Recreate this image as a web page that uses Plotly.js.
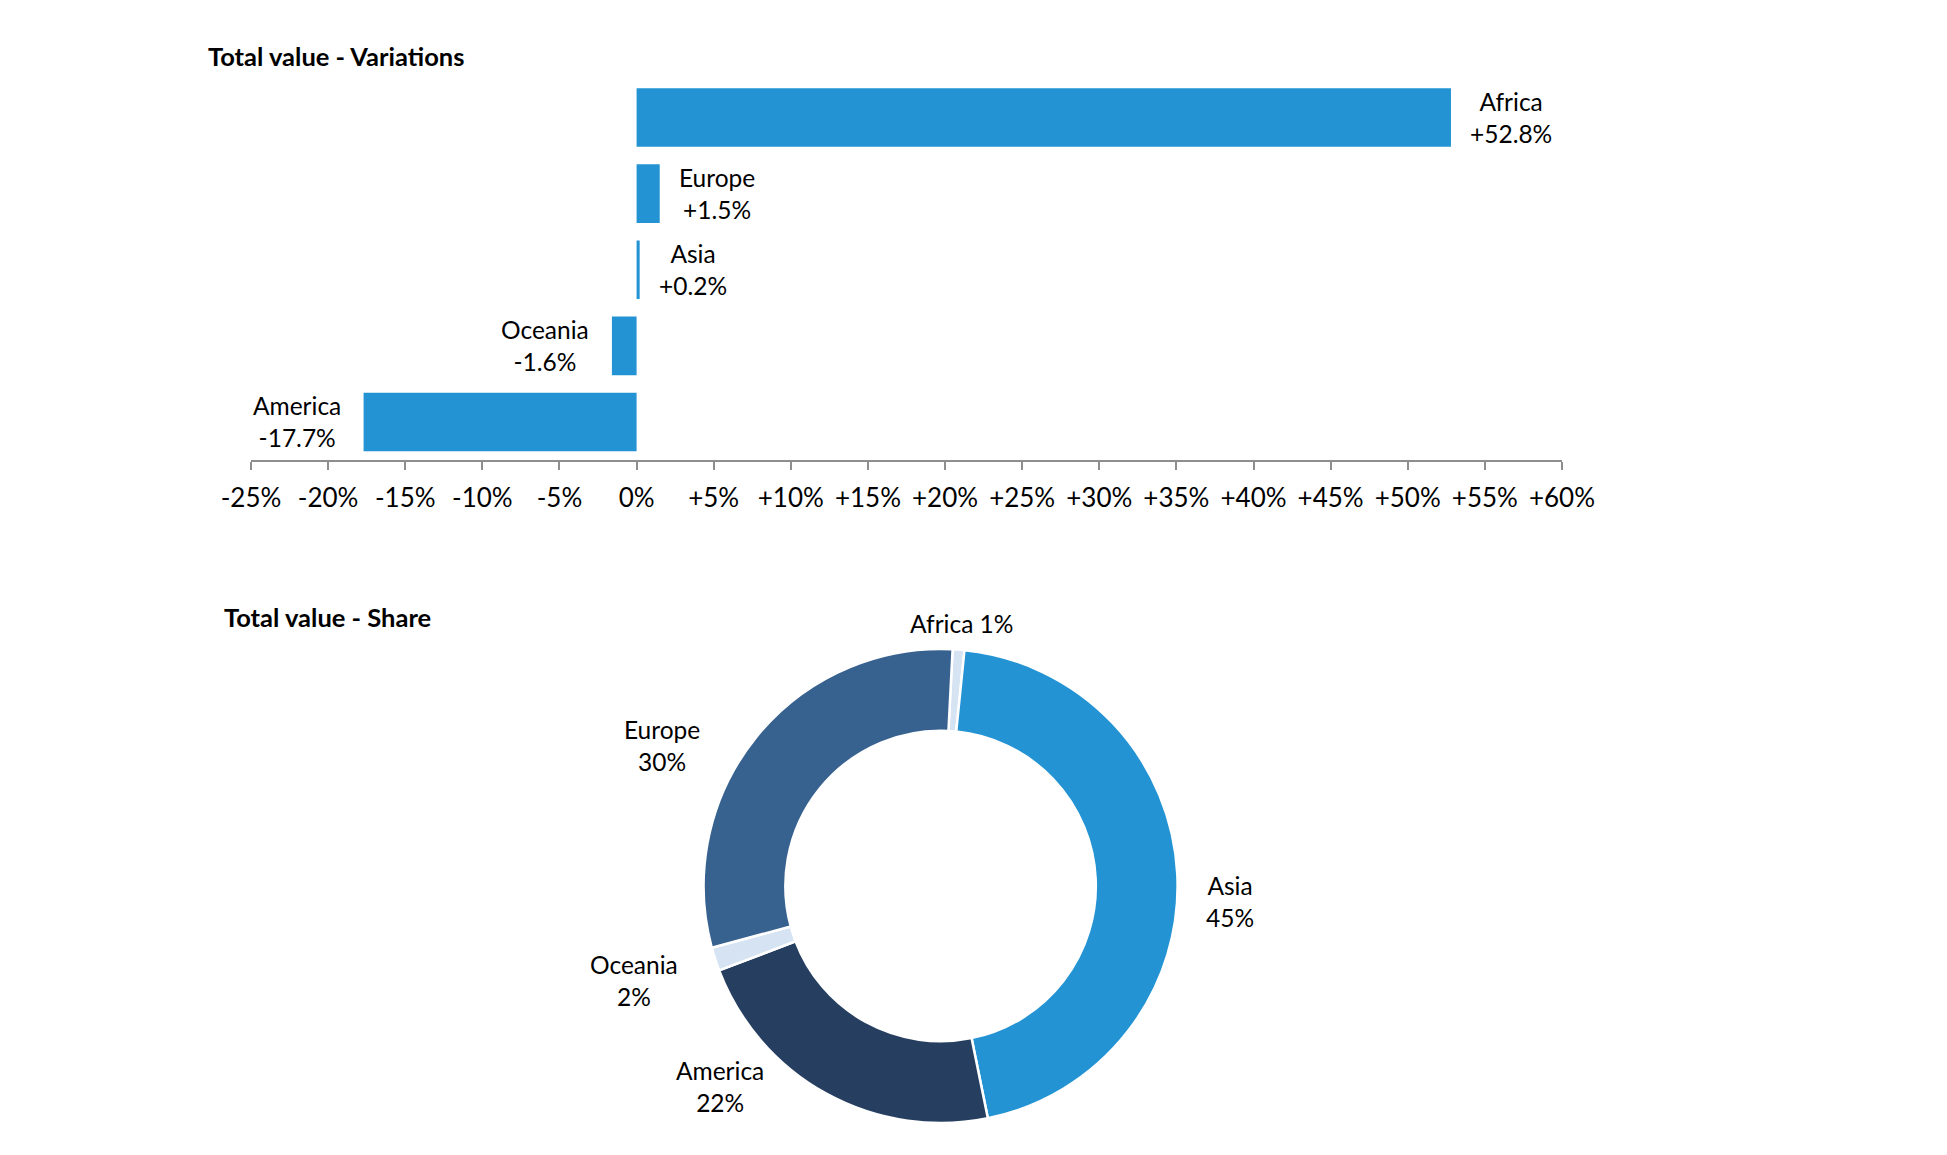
<!DOCTYPE html>
<html>
<head>
<meta charset="utf-8">
<script src="https://cdn.plot.ly/plotly-3.0.1.min.js"></script>
<style>
  html, body { margin: 0; padding: 0; background: #ffffff; }
  #chart { width: 1947px; height: 1155px; }
</style>
</head>
<body>
<div id="chart"></div>
<script>
// ---- Data: bar chart (variations, %) ----
const barCategories = ['Africa', 'Europe', 'Asia', 'Oceania', 'America'];
const barValues = [52.8, 1.5, 0.2, -1.6, -17.7];

// ---- Axis ticks ----
const tickValues = [-25, -20, -15, -10, -5, 0, 5, 10, 15, 20, 25, 30, 35, 40, 45, 50, 55, 60];
const tickLabels = ['-25%', '-20%', '-15%', '-10%', '-5%', '0%', '+5%', '+10%', '+15%', '+20%', '+25%', '+30%', '+35%', '+40%', '+45%', '+50%', '+55%', '+60%'];

// ---- Data: donut (share, %) ----
const pieLabels = ['Africa', 'Asia', 'America', 'Oceania', 'Europe'];
const pieValues = [0.8, 45.2, 22.4, 1.6, 30.0];
const pieColors = ['#D5E3F3', '#2393D4', '#263F61', '#D5E3F3', '#37618F'];

// ---- Titles ----
const titleVariations = 'Total value - Variations';
const titleShare = 'Total value - Share';

// ---- Layout constants (pixels in the 1947x1155 page) ----
const W = 1947, H = 1155;
const FONT = 'Lato, Carlito, Calibri, "Open Sans", sans-serif';
const BAR_COLOR = '#2393D4';
// donut label anchor points (label centres, page pixels), same order as pieLabels
const pieLabelPos = [[961, 623], [1230, 901], [720, 1086], [634, 981], [662, 745]];

function fmtVar(v) {
  return (v > 0 ? '+' : '') + v.toFixed(1) + '%';
}

const barTrace = {
  type: 'bar',
  orientation: 'h',
  x: barValues,
  y: barCategories,
  marker: { color: BAR_COLOR },
  xaxis: 'x',
  yaxis: 'y',
  hoverinfo: 'x+y',
  showlegend: false
};

const pieTrace = {
  type: 'pie',
  labels: pieLabels,
  values: pieValues,
  sort: false,
  direction: 'clockwise',
  rotation: 2.9,
  hole: 0.655,
  marker: { colors: pieColors, line: { color: '#ffffff', width: 2.5 } },
  textinfo: 'none',
  domain: { x: [703.6 / W, 1177.6 / W], y: [1 - 1123 / H, 1 - 649 / H] },
  showlegend: false
};

const barAnnotations = barCategories.map(function (c, i) {
  const v = barValues[i];
  return {
    x: v,
    y: c,
    xref: 'x',
    yref: 'y',
    text: c + '<br>' + fmtVar(v),
    showarrow: false,
    xanchor: v >= 0 ? 'left' : 'right',
    yanchor: 'middle',
    xshift: v >= 0 ? 17 : -21,
    align: 'center',
    font: { family: FONT, size: 24.5, color: '#000000' }
  };
});

const pieTotal = pieValues.reduce(function (a, b) { return a + b; }, 0);
const pieAnnotations = pieLabels.map(function (l, i) {
  const pct = Math.round(pieValues[i] / pieTotal * 100) + '%';
  return {
    x: pieLabelPos[i][0] / W,
    y: 1 - pieLabelPos[i][1] / H,
    xref: 'paper',
    yref: 'paper',
    text: l === 'Africa' ? l + ' ' + pct : l + '<br>' + pct,
    showarrow: false,
    xanchor: 'center',
    yanchor: 'middle',
    align: 'center',
    font: { family: FONT, size: 24.5, color: '#000000' }
  };
});

const layout = {
  width: W,
  height: H,
  margin: { l: 0, r: 0, t: 0, b: 0 },
  paper_bgcolor: '#ffffff',
  plot_bgcolor: '#ffffff',
  font: { family: FONT, size: 24, color: '#000000' },
  showlegend: false,
  title: {
    text: '<b>' + titleVariations + '</b>',
    x: 208 / W,
    xanchor: 'left',
    xref: 'paper',
    y: 1 - 57 / H,
    yref: 'paper',
    yanchor: 'middle',
    font: { family: FONT, size: 25.5, color: '#000000' }
  },
  bargap: 0.23,
  xaxis: {
    domain: [251 / W, 1562 / W],
    range: [-25, 60],
    tickmode: 'array',
    tickvals: tickValues,
    ticktext: tickLabels,
    ticks: 'outside',
    ticklen: 8,
    tickwidth: 2,
    tickcolor: '#8E8E8E',
    ticklabelstandoff: 6,
    showline: true,
    linecolor: '#8E8E8E',
    linewidth: 2,
    showgrid: false,
    zeroline: false,
    tickfont: { family: FONT, size: 26, color: '#000000' },
    fixedrange: true,
    anchor: 'y'
  },
  yaxis: {
    domain: [1 - 460 / H, 1 - 79.5 / H],
    type: 'category',
    categoryorder: 'array',
    categoryarray: barCategories,
    autorange: 'reversed',
    showticklabels: false,
    ticks: '',
    showline: false,
    showgrid: false,
    zeroline: false,
    fixedrange: true,
    anchor: 'x'
  },
  annotations: barAnnotations.concat(pieAnnotations, [{
    text: '<b>' + titleShare + '</b>',
    x: 222 / W,
    y: 1 - 617 / H,
    xref: 'paper',
    yref: 'paper',
    xanchor: 'left',
    yanchor: 'middle',
    showarrow: false,
    font: { family: FONT, size: 25.5, color: '#000000' }
  }])
};

Plotly.newPlot('chart', [barTrace, pieTrace], layout, { displayModeBar: false, staticPlot: true });
</script>
</body>
</html>
